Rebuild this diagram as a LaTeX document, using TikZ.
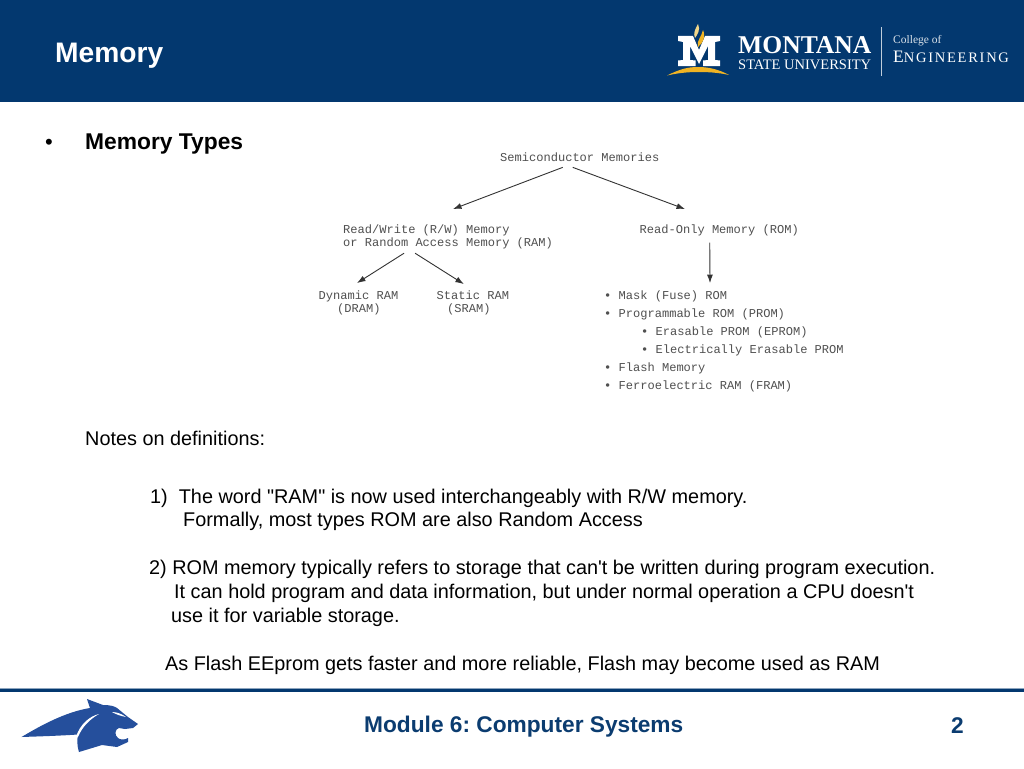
\documentclass[tikz,border=0pt]{standalone}
\usepackage{fontspec}
\setmainfont{Liberation Sans}[Ligatures=TeXOff]
\setmonofont{Liberation Mono}
\newfontfamily\logoserif{Liberation Serif}
\usetikzlibrary{arrows.meta}
\definecolor{navy}{HTML}{03386F}
\definecolor{foot}{HTML}{0B3C70}
\definecolor{catblue}{HTML}{254F9C}
\definecolor{gold}{HTML}{F0B323}
\definecolor{pale}{HTML}{F2D78A}
\definecolor{diag}{HTML}{505050}
\newcommand{\fs}[1]{\fontsize{#1}{#1}\selectfont}
\newcommand{\bul}{{\bfseries •}}
\frenchspacing
\tikzset{
  x=1pt,y=-1pt,
  txt/.style={anchor=base west,inner sep=0pt,font=\fs{19.85},text=black},
  mono/.style={anchor=base west,inner sep=0pt,font=\ttfamily\fs{12.05},text=diag},
  arr/.style={draw=black!80,line width=0.9pt,-{Latex[length=8.5pt,width=6pt]}},
  logo/.style={anchor=base west,inner sep=0pt,text=white},
}
\begin{document}
\begin{tikzpicture}
\useasboundingbox (0,0) rectangle (1024,768);
\fill[white] (0,0) rectangle (1024,768);
% header
\fill[navy] (0,0) rectangle (1024,102);
\node[logo,font=\bfseries\fs{28.2}] (title) at (55,63) {Memory};
% logo
\fill[white] (678,36) -- (693,36) -- (699,50) -- (705,36) -- (720,36) -- (720,41) -- (715,42) -- (715,60) -- (720,60.5) -- (720,66) -- (703,66) -- (703,60.5) -- (708,60) -- (708,46) -- (699,64) -- (690,46) -- (690,60) -- (695.5,60.5) -- (695.5,66) -- (678,66) -- (678,60.5) -- (683,60) -- (683,42) -- (678,41) -- cycle;
\fill[pale] (698,24) .. controls (701,30) and (697,35) .. (695,38) .. controls (693,34) and (695,29) .. (698,24) -- cycle;
\fill[gold] (703,30) .. controls (706,37) and (703,43) .. (698,47) .. controls (696,41) and (702,36) .. (703,30) -- cycle;
\fill[gold] (667,75.5) .. controls (680,69) and (688,67) .. (698,67) .. controls (708,67) and (718,69) .. (729,75) .. controls (718,72.5) and (708,72) .. (698,72) .. controls (688,72) and (678,73) .. (667,75.5) -- cycle;
\node[logo,font=\logoserif\bfseries\fs{25.6}] (montana) at (738,53) {MONTANA};
\node[logo,font=\logoserif\fs{14.5}] (state) at (738,69) {STATE UNIVERSITY};
\fill[white!75!navy] (880.7,27) rectangle (881.7,76);
\node[logo,font=\logoserif\fs{11.5},text=white!85!navy] (college) at (893,44) {College of};
\node[logo,font=\logoserif] (eng) at (893,63) {\addfontfeature{LetterSpace=12}\fs{17.5}E\fs{14.5}NGINEERING};
% body
\node[txt,font=\fs{22}] (bullet) at (45,149) {•};
\node[txt,font=\bfseries\fs{22.8}] (types) at (85,149) {Memory Types};
\node[txt] (notes) at (85,445) {Notes on definitions:};
\node[txt] (l1) at (150,503) {1)\ \ The word "RAM" is now used interchangeably with R/W memory.};
\node[txt] (l2) at (183,526) {Formally, most types ROM are also Random Access};
\node[txt] (l3) at (149,574) {2) ROM memory typically refers to storage that can't be written during program execution.};
\node[txt] (l4) at (174,598) {It can hold program and data information, but under normal operation a CPU doesn't};
\node[txt] (l5) at (171,622) {use it for variable storage.};
\node[txt] (l6) at (165,670) {As Flash EEprom gets faster and more reliable, Flash may become used as RAM};
% diagram
\node[mono] (semi) at (500,161) {Semiconductor Memories};
\node[mono] (rw1) at (343,233) {Read/Write (R/W) Memory};
\node[mono] (rw2) at (343,246.5) {or Random Access Memory (RAM)};
\node[mono] (ro) at (639.5,233) {Read-Only Memory (ROM)};
\node[mono] (dram1) at (318.5,299) {Dynamic RAM};
\node[mono] (dram2) at (337,312.5) {(DRAM)};
\node[mono] (sram1) at (436.5,299) {Static RAM};
\node[mono] (sram2) at (447,312.5) {(SRAM)};
\node[mono] (m1) at (604,299) {\bul{} Mask (Fuse) ROM};
\node[mono] (m2) at (604,317) {\bul{} Programmable ROM (PROM)};
\node[mono] (m3) at (641,335) {\bul{} Erasable PROM (EPROM)};
\node[mono] (m4) at (641,353) {\bul{} Electrically Erasable PROM};
\node[mono] (m5) at (604,371.5) {\bul{} Flash Memory};
\node[mono] (m6) at (604,389.5) {\bul{} Ferroelectric RAM (FRAM)};
\draw[arr] ([xshift=-17pt,yshift=-6pt]semi.south) -- ([xshift=110pt,yshift=15pt]rw1.north west);
\draw[arr] ([xshift=-7pt,yshift=-6pt]semi.south) -- ([xshift=45.5pt,yshift=15pt]ro.north west);
\draw[arr] ([xshift=-44pt,yshift=-4pt]rw2.south) -- ([xshift=-1.5pt,yshift=7pt]dram1.north);
\draw[arr] ([xshift=-33pt,yshift=-4pt]rw2.south) -- ([xshift=-9pt,yshift=6pt]sram1.north);
\draw[arr] ([xshift=-9.5pt,yshift=-7pt]ro.south) -- ([xshift=106pt,yshift=7pt]m1.north west);
% footer
\fill[navy] (0,688) rectangle (1024,692);
\fill[white!55!navy] (0,688) rectangle (1024,689);
\node[txt,font=\bfseries\fs{22.7},text=foot] (module) at (364,732) {Module 6: Computer Systems};
\node[txt,font=\bfseries\fs{22.7},text=foot] (page) at (951,733) {2};
% cat
\fill[catblue] (21.5,737) .. controls (40,726) and (65,712) .. (90,708)
 -- (87,699) -- (95,702) -- (103,705) .. controls (110,705) and (114,706) .. (117,708)
 -- (128,717) -- (138,724) -- (133,728) -- (125,729) -- (119,728)
 .. controls (115,729) and (114,735) .. (118,738) .. controls (120,740) and (125,740) .. (128,738)
 -- (128,742) -- (117,747) -- (102,745) -- (79,752)
 .. controls (77,746) and (77,740) .. (78,734.5)
 .. controls (55,736) and (35,736.5) .. (21.5,737) -- cycle;
\fill[white] (99,714) .. controls (90,716) and (80,724) .. (76,737) -- (78,737) .. controls (82,727) and (90,719) .. (99,714) -- cycle;
\fill[white] (112,712) .. controls (117,712) and (122,714) .. (126,717) .. controls (121,716) and (116,714.5) .. (112,712) -- cycle;
\end{tikzpicture}
\end{document}
